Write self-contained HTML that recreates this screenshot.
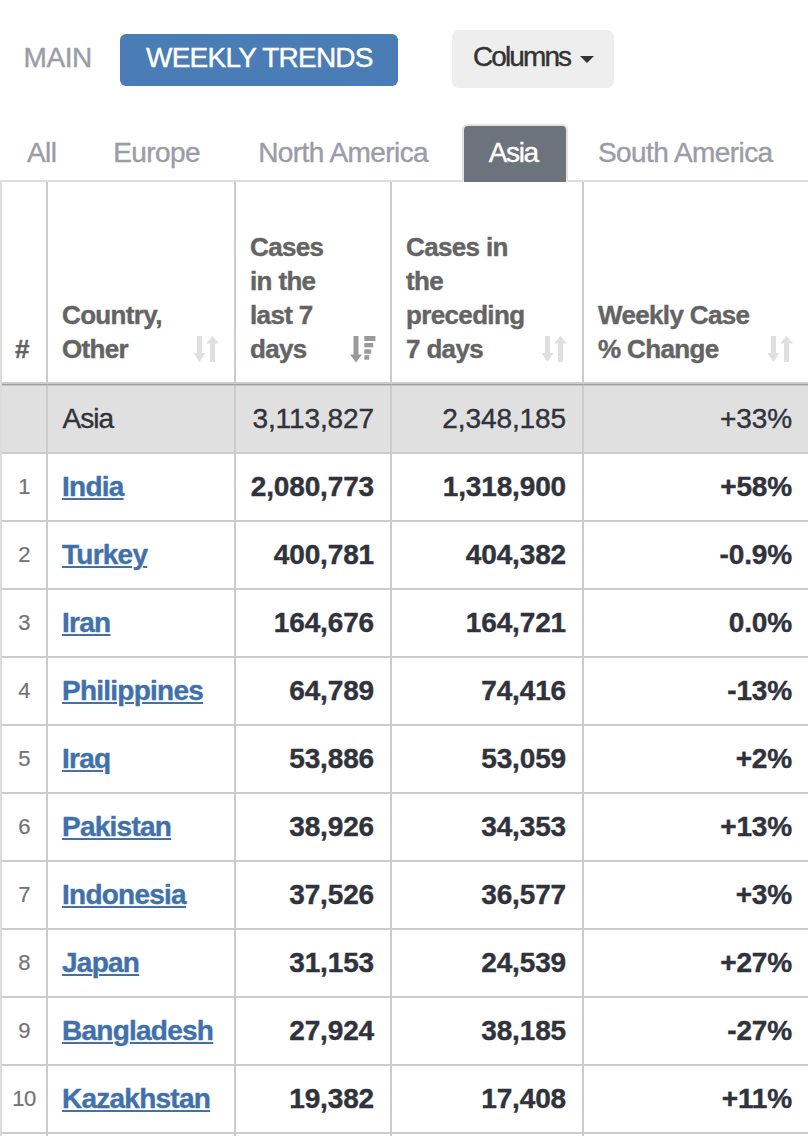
<!DOCTYPE html>
<html><head><meta charset="utf-8">
<style>
*{margin:0;padding:0;box-sizing:border-box}
html,body{width:808px;height:1136px;overflow:hidden;background:#fff}
body{font-family:"Liberation Sans",sans-serif;position:relative;color:#30323c}
.a{position:absolute;white-space:nowrap;line-height:1}
.th,.c,.tab,.btxt{-webkit-text-stroke:0.4px currentColor}
.num{-webkit-text-stroke:0.2px currentColor}
.btn1{position:absolute;left:120px;top:34px;width:278px;height:52px;background:#4a7cb6;border-radius:6px}
.btn2{position:absolute;left:452px;top:30px;width:162px;height:58px;background:#eeeeee;border-radius:7px}
.tab{font-size:28px;color:#9a9ca8;letter-spacing:-0.58px}
.asiatab{position:absolute;left:462px;top:124px;width:106px;height:58px;background:#6c737c;border:2px solid #e3e3e3;border-bottom:none;border-radius:6px 6px 0 0}
.hl{position:absolute;left:2px;width:806px;height:2px;background:#cccccc}
.vl{position:absolute;width:2px;background:#cccccc}
.th{position:absolute;font-size:26px;font-weight:bold;color:#646464;line-height:34px;white-space:nowrap;letter-spacing:-0.65px}
.num{position:absolute;font-size:22px;color:#737373;line-height:1;width:44px;text-align:center;left:2px;letter-spacing:-0.6px}
.c{position:absolute;font-size:28px;line-height:1;white-space:nowrap;letter-spacing:-0.1px}
.b{letter-spacing:-0.15px}
.r{text-align:right}
.b{font-weight:bold}
.lk{color:#4171ab;font-weight:bold;letter-spacing:-0.75px;text-decoration:underline;text-decoration-thickness:2px;text-underline-offset:2px}
</style></head><body>
<div class="a tab" style="left:23.5px;top:44px;letter-spacing:-0.4px">MAIN</div>
<div class="btn1"></div>
<div class="a btxt" style="left:146px;top:44px;font-size:28px;color:#fff;letter-spacing:-0.75px">WEEKLY TRENDS</div>
<div class="btn2"></div>
<div class="a btxt" style="left:473px;top:43px;font-size:28px;color:#333;letter-spacing:-1.9px">Columns</div>
<div class="a" style="left:580px;top:56px;width:0;height:0;border-left:7px solid transparent;border-right:7px solid transparent;border-top:7px solid #333"></div>
<div class="a tab" style="left:27px;top:138.5px">All</div>
<div class="a tab" style="left:113.2px;top:138.5px">Europe</div>
<div class="a tab" style="left:258.2px;top:138.5px">North America</div>
<div class="a tab" style="left:598px;top:138.5px">South America</div>
<div class="a" style="left:0;top:180px;width:808px;height:2px;background:#dddddd"></div>
<div class="asiatab"></div>
<div class="a tab" style="left:488.8px;top:138.5px;color:#fff;letter-spacing:-1.4px">Asia</div>
<div class="a" style="left:2px;top:384px;width:806px;height:68px;background:#e0e0e0"></div>
<div class="a" style="left:0;top:182px;width:2px;height:954px;background:#dddddd"></div>
<div class="vl" style="left:46px;top:182px;height:954px"></div>
<div class="vl" style="left:234px;top:182px;height:954px"></div>
<div class="vl" style="left:390px;top:182px;height:954px"></div>
<div class="vl" style="left:582px;top:182px;height:954px"></div>
<div class="hl" style="top:382px"></div>
<div class="a" style="left:2px;top:384px;width:806px;height:2px;background:linear-gradient(#8f8f8f,#d6d6d6)"></div>
<div class="hl" style="top:452px"></div>
<div class="hl" style="top:520px"></div>
<div class="hl" style="top:588px"></div>
<div class="hl" style="top:656px"></div>
<div class="hl" style="top:724px"></div>
<div class="hl" style="top:792px"></div>
<div class="hl" style="top:860px"></div>
<div class="hl" style="top:928px"></div>
<div class="hl" style="top:996px"></div>
<div class="hl" style="top:1064px"></div>
<div class="hl" style="top:1132px"></div>
<div class="th" style="left:15px;top:332px">#</div>
<div class="th" style="left:62px;top:298px">Country,<br>Other</div>
<div class="th" style="left:250px;top:230px">Cases<br>in the<br>last 7<br>days</div>
<div class="th" style="left:406px;top:230px">Cases in<br>the<br>preceding<br>7 days</div>
<div class="th" style="left:598px;top:298px">Weekly Case<br>% Change</div>
<svg class="a" style="left:193.4px;top:335.8px" width="27" height="27" viewBox="0 0 27 27"><g fill="#e0e0e0"><rect x="4" y="0" width="5" height="18"/><polygon points="0.5,17 12.5,17 6.5,26"/><polygon points="13,7.5 26,7.5 19.5,0"/><rect x="17" y="7" width="5" height="19"/></g></svg>
<svg class="a" style="left:349.7px;top:336px" width="27" height="27" viewBox="0 0 27 27"><g fill="#9a9a9a"><rect x="3.5" y="0" width="5" height="19"/><polygon points="0,18.5 12,18.5 6,26.5"/><rect x="14.3" y="0" width="11.1" height="5"/><rect x="14.3" y="7" width="8.9" height="4.3"/><rect x="14.3" y="13.3" width="6.9" height="4.4"/><rect x="14.3" y="19.2" width="5" height="4.5"/></g></svg>
<svg class="a" style="left:541.3px;top:336px" width="27" height="27" viewBox="0 0 27 27"><g fill="#e0e0e0"><rect x="4" y="0" width="5" height="18"/><polygon points="0.5,17 12.5,17 6.5,26"/><polygon points="13,7.5 26,7.5 19.5,0"/><rect x="17" y="7" width="5" height="19"/></g></svg>
<svg class="a" style="left:767.3px;top:336px" width="27" height="27" viewBox="0 0 27 27"><g fill="#e0e0e0"><rect x="4" y="0" width="5" height="18"/><polygon points="0.5,17 12.5,17 6.5,26"/><polygon points="13,7.5 26,7.5 19.5,0"/><rect x="17" y="7" width="5" height="19"/></g></svg>
<div class="c" style="left:62.5px;top:405px;letter-spacing:-1px">Asia</div>
<div class="c r" style="right:434px;top:405px">3,113,827</div>
<div class="c r" style="right:242px;top:405px">2,348,185</div>
<div class="c r" style="right:16px;top:405px">+33%</div>
<div class="num" style="top:476px">1</div>
<div class="c lk" style="left:62px;top:473px">India</div>
<div class="c b r" style="right:434px;top:473px">2,080,773</div>
<div class="c b r" style="right:242px;top:473px">1,318,900</div>
<div class="c b r" style="right:16px;top:473px">+58%</div>
<div class="num" style="top:544px">2</div>
<div class="c lk" style="left:62px;top:541px">Turkey</div>
<div class="c b r" style="right:434px;top:541px">400,781</div>
<div class="c b r" style="right:242px;top:541px">404,382</div>
<div class="c b r" style="right:16px;top:541px">-0.9%</div>
<div class="num" style="top:612px">3</div>
<div class="c lk" style="left:62px;top:609px">Iran</div>
<div class="c b r" style="right:434px;top:609px">164,676</div>
<div class="c b r" style="right:242px;top:609px">164,721</div>
<div class="c b r" style="right:16px;top:609px">0.0%</div>
<div class="num" style="top:680px">4</div>
<div class="c lk" style="left:62px;top:677px">Philippines</div>
<div class="c b r" style="right:434px;top:677px">64,789</div>
<div class="c b r" style="right:242px;top:677px">74,416</div>
<div class="c b r" style="right:16px;top:677px">-13%</div>
<div class="num" style="top:748px">5</div>
<div class="c lk" style="left:62px;top:745px">Iraq</div>
<div class="c b r" style="right:434px;top:745px">53,886</div>
<div class="c b r" style="right:242px;top:745px">53,059</div>
<div class="c b r" style="right:16px;top:745px">+2%</div>
<div class="num" style="top:816px">6</div>
<div class="c lk" style="left:62px;top:813px">Pakistan</div>
<div class="c b r" style="right:434px;top:813px">38,926</div>
<div class="c b r" style="right:242px;top:813px">34,353</div>
<div class="c b r" style="right:16px;top:813px">+13%</div>
<div class="num" style="top:884px">7</div>
<div class="c lk" style="left:62px;top:881px">Indonesia</div>
<div class="c b r" style="right:434px;top:881px">37,526</div>
<div class="c b r" style="right:242px;top:881px">36,577</div>
<div class="c b r" style="right:16px;top:881px">+3%</div>
<div class="num" style="top:952px">8</div>
<div class="c lk" style="left:62px;top:949px">Japan</div>
<div class="c b r" style="right:434px;top:949px">31,153</div>
<div class="c b r" style="right:242px;top:949px">24,539</div>
<div class="c b r" style="right:16px;top:949px">+27%</div>
<div class="num" style="top:1020px">9</div>
<div class="c lk" style="left:62px;top:1017px">Bangladesh</div>
<div class="c b r" style="right:434px;top:1017px">27,924</div>
<div class="c b r" style="right:242px;top:1017px">38,185</div>
<div class="c b r" style="right:16px;top:1017px">-27%</div>
<div class="num" style="top:1088px">10</div>
<div class="c lk" style="left:62px;top:1085px">Kazakhstan</div>
<div class="c b r" style="right:434px;top:1085px">19,382</div>
<div class="c b r" style="right:242px;top:1085px">17,408</div>
<div class="c b r" style="right:16px;top:1085px">+11%</div>
</body></html>
